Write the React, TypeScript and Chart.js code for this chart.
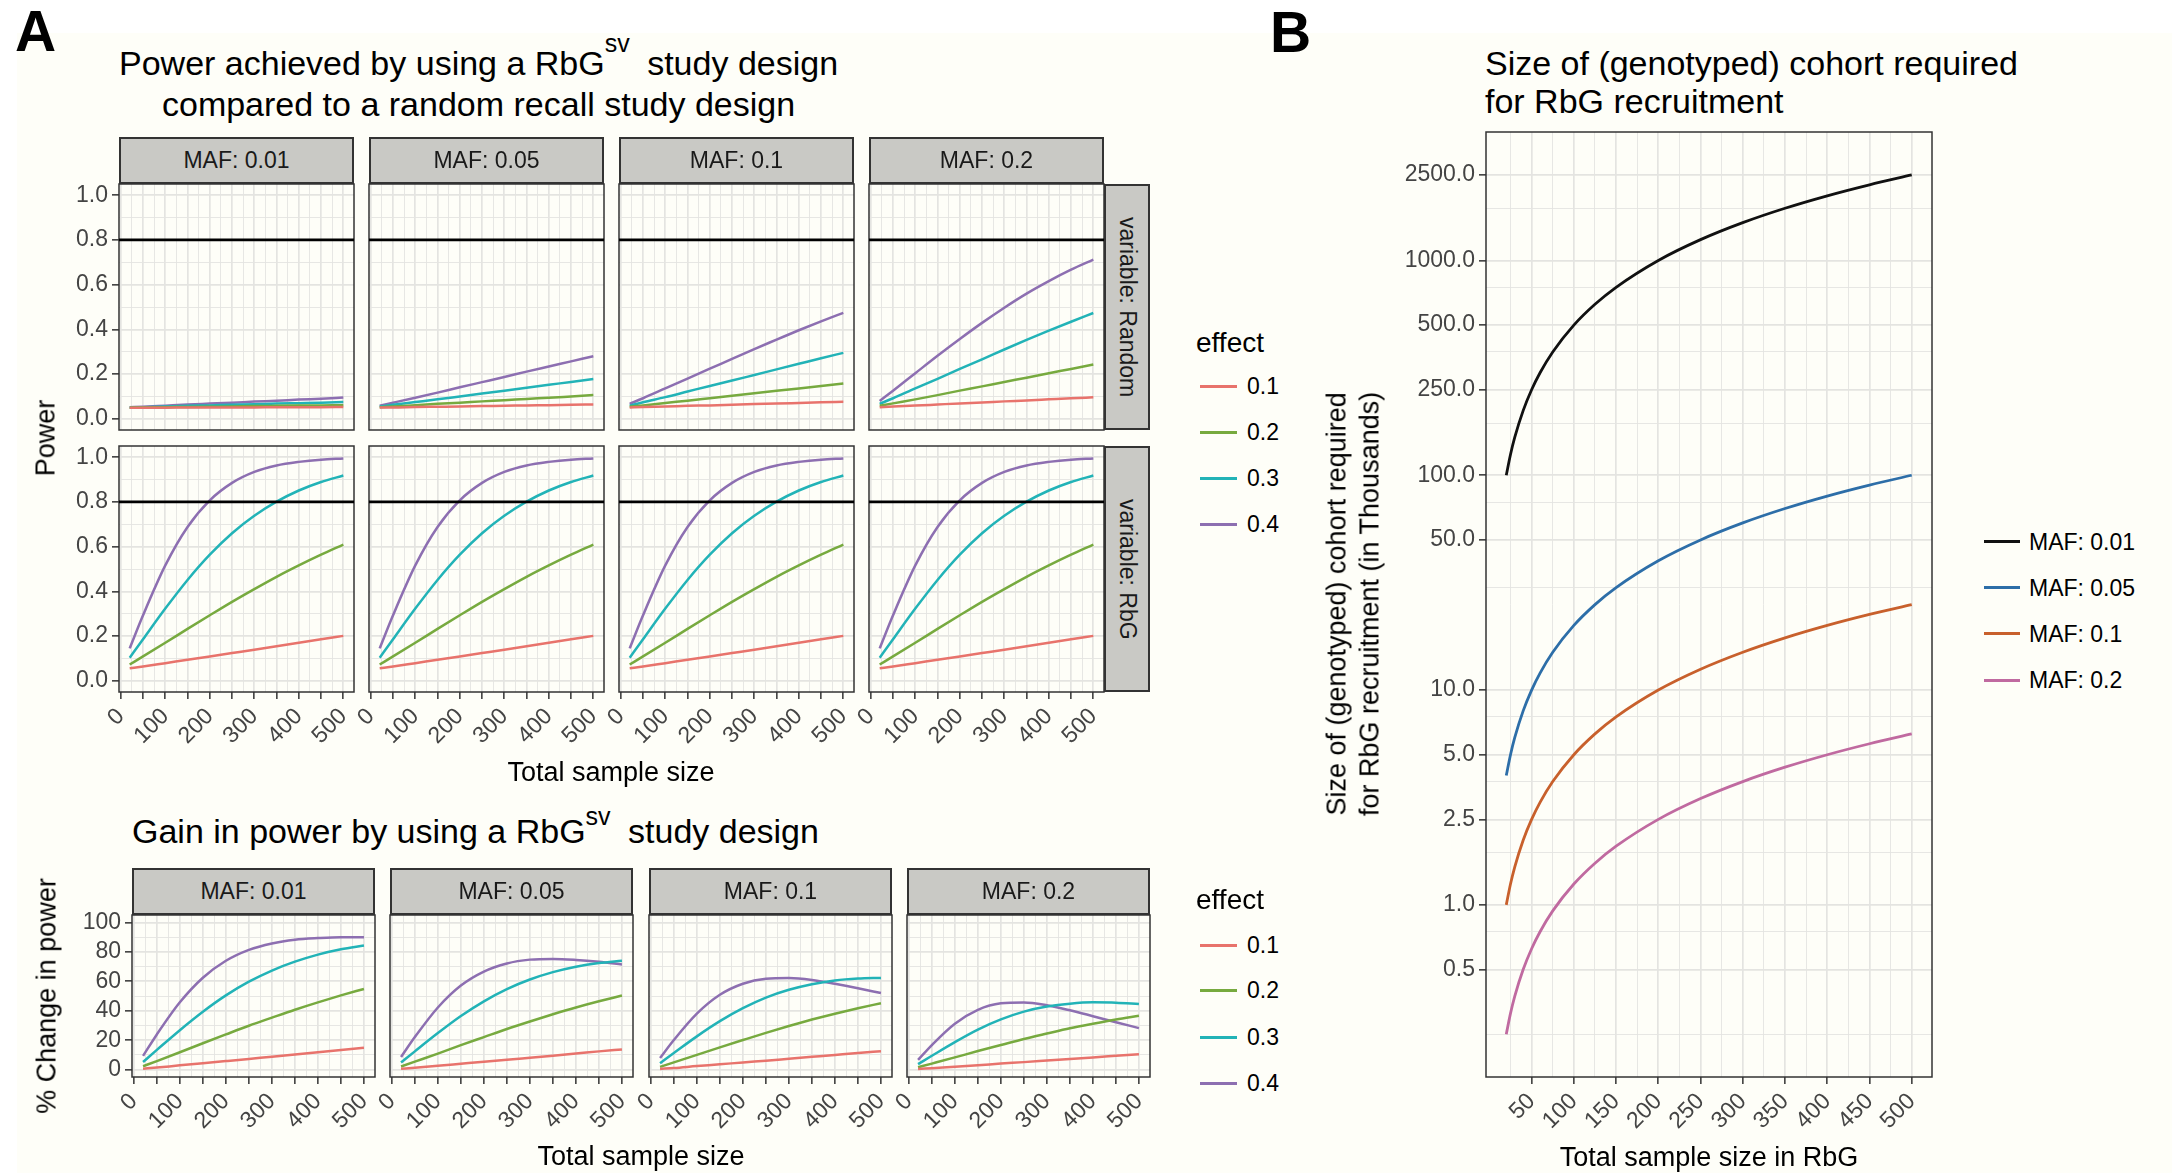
import React, { useEffect, useRef } from 'react';
import { Chart, registerables } from 'chart.js';

Chart.register(...registerables);

const FONT = "'Liberation Sans', Arial, Helvetica, sans-serif";
Chart.defaults.font.family = FONT;

// ---------------- data ----------------
const MAF_LABELS = ['MAF: 0.01', 'MAF: 0.05', 'MAF: 0.1', 'MAF: 0.2'];
const EFFECT_LABELS = ['0.1', '0.2', '0.3', '0.4'];
const DESIGN_LABELS = ['variable: Random', 'variable: RbG'];

// total sample size (x) for panel A
const SAMPLE_SIZES = [20, 50, 100, 150, 200, 250, 300, 350, 400, 450, 500];

// power, random recall design (rows = effect 0.1, 0.2, 0.3, 0.4)
const RANDOM_POWER_MAF_001 = [
  [0.050, 0.050, 0.050, 0.051, 0.051, 0.051, 0.051, 0.052, 0.052, 0.052, 0.053],
  [0.050, 0.051, 0.052, 0.053, 0.054, 0.055, 0.057, 0.058, 0.059, 0.060, 0.061],
  [0.051, 0.052, 0.055, 0.058, 0.060, 0.063, 0.065, 0.068, 0.070, 0.072, 0.075],
  [0.052, 0.054, 0.059, 0.064, 0.068, 0.072, 0.077, 0.081, 0.086, 0.090, 0.095],
];
const RANDOM_POWER_MAF_005 = [
  [0.051, 0.051, 0.053, 0.054, 0.055, 0.057, 0.058, 0.060, 0.061, 0.063, 0.064],
  [0.052, 0.055, 0.061, 0.067, 0.072, 0.078, 0.083, 0.089, 0.094, 0.100, 0.106],
  [0.055, 0.063, 0.075, 0.087, 0.100, 0.113, 0.126, 0.139, 0.152, 0.165, 0.178],
  [0.059, 0.072, 0.094, 0.117, 0.141, 0.164, 0.187, 0.211, 0.234, 0.257, 0.280],
];
const RANDOM_POWER_MAF_01 = [
  [0.051, 0.053, 0.055, 0.058, 0.060, 0.063, 0.066, 0.068, 0.071, 0.074, 0.076],
  [0.054, 0.060, 0.071, 0.081, 0.092, 0.103, 0.114, 0.125, 0.136, 0.147, 0.158],
  [0.059, 0.074, 0.097, 0.122, 0.147, 0.171, 0.196, 0.221, 0.246, 0.271, 0.295],
  [0.067, 0.092, 0.136, 0.180, 0.224, 0.268, 0.312, 0.354, 0.396, 0.436, 0.474],
];
const RANDOM_POWER_MAF_02 = [
  [0.052, 0.055, 0.059, 0.064, 0.069, 0.073, 0.078, 0.082, 0.087, 0.092, 0.096],
  [0.058, 0.069, 0.087, 0.106, 0.126, 0.145, 0.165, 0.184, 0.204, 0.223, 0.243],
  [0.067, 0.092, 0.136, 0.179, 0.223, 0.266, 0.310, 0.353, 0.394, 0.434, 0.473],
  [0.080, 0.126, 0.204, 0.282, 0.357, 0.429, 0.497, 0.560, 0.616, 0.667, 0.712],
];
// power, RbG design (identical for every MAF)
const RBG_POWER = [
  [0.056, 0.064, 0.079, 0.094, 0.109, 0.124, 0.139, 0.155, 0.170, 0.186, 0.201],
  [0.073, 0.109, 0.170, 0.232, 0.293, 0.353, 0.410, 0.465, 0.516, 0.564, 0.609],
  [0.103, 0.186, 0.323, 0.451, 0.564, 0.660, 0.738, 0.801, 0.851, 0.889, 0.918],
  [0.145, 0.293, 0.516, 0.688, 0.807, 0.885, 0.934, 0.963, 0.979, 0.989, 0.994],
];
// % change in power
const GAIN_MAF_001 = [
  [0.6, 1.4, 2.9, 4.3, 5.8, 7.3, 8.8, 10.3, 11.8, 13.4, 14.8],
  [2.3, 5.8, 11.8, 17.9, 23.9, 29.8, 35.3, 40.7, 45.7, 50.4, 54.8],
  [5.2, 13.4, 26.8, 39.3, 50.4, 59.7, 67.3, 73.3, 78.1, 81.7, 84.3],
  [9.3, 23.9, 45.7, 62.4, 73.9, 81.3, 85.7, 88.2, 89.3, 89.9, 89.9],
];
const GAIN_MAF_005 = [
  [0.6, 1.3, 2.6, 4.0, 5.4, 6.7, 8.1, 9.5, 10.9, 12.4, 13.7],
  [2.1, 5.4, 10.9, 16.6, 22.1, 27.6, 32.7, 37.6, 42.2, 46.4, 50.3],
  [4.8, 12.4, 24.8, 36.4, 46.4, 54.7, 61.2, 66.2, 69.9, 72.4, 74.0],
  [8.6, 22.1, 42.2, 57.1, 66.6, 72.1, 74.7, 75.2, 74.5, 73.2, 71.4],
];
const GAIN_MAF_01 = [
  [0.5, 1.1, 2.4, 3.6, 4.9, 6.1, 7.4, 8.7, 10.0, 11.3, 12.5],
  [1.9, 4.9, 10.0, 15.1, 20.1, 25.0, 29.6, 34.0, 38.0, 41.7, 45.1],
  [4.4, 11.3, 22.6, 32.9, 41.7, 48.9, 54.2, 58.0, 60.5, 61.8, 62.3],
  [7.9, 20.1, 38.0, 50.8, 58.3, 61.7, 62.2, 60.9, 58.3, 55.3, 52.0],
];
const GAIN_MAF_02 = [
  [0.4, 1.0, 2.0, 3.0, 4.1, 5.1, 6.2, 7.3, 8.3, 9.4, 10.5],
  [1.6, 4.1, 8.3, 12.6, 16.7, 20.8, 24.5, 28.1, 31.2, 34.1, 36.6],
  [3.7, 9.4, 18.7, 27.2, 34.1, 39.4, 42.8, 44.8, 45.7, 45.5, 44.5],
  [6.6, 16.7, 31.2, 40.6, 45.0, 45.6, 43.7, 40.3, 36.3, 32.2, 28.2],
];

// panel B: cohort size (thousands) vs total sample size in RbG
const RBG_SAMPLE_SIZES = [20, 25, 30, 40, 50, 60, 75, 100, 125, 150, 200, 250, 300, 350, 400, 450, 500];
const COHORT_MAF_001 = [100, 125, 150, 200, 250, 300, 375, 500, 625, 750, 1000, 1250, 1500, 1750, 2000, 2250, 2500];
const COHORT_MAF_005 = [4, 5, 6, 8, 10, 12, 15, 20, 25, 30, 40, 50, 60, 70, 80, 90, 100];
const COHORT_MAF_01 = [1, 1.25, 1.5, 2, 2.5, 3, 3.75, 5, 6.25, 7.5, 10, 12.5, 15, 17.5, 20, 22.5, 25];
const COHORT_MAF_02 = [0.25, 0.3125, 0.375, 0.5, 0.625, 0.75, 0.9375, 1.25, 1.5625, 1.875, 2.5, 3.125, 3.75, 4.375, 5, 5.625, 6.25];

// axis breaks
const SIZE_RANGE = [-4, 524];
const SIZE_MAJOR = [0, 50, 100, 150, 200, 250, 300, 350, 400, 450, 500];
const SIZE_LABELLED = [0, 100, 200, 300, 400, 500];
const SIZE_MINOR = [25, 75, 125, 175, 225, 275, 325, 375, 425, 475];
const POWER_RANGE = [-0.05, 1.05];
const POWER_MAJOR = [0, 0.2, 0.4, 0.6, 0.8, 1.0];
const POWER_MINOR = [0.1, 0.3, 0.5, 0.7, 0.9];
const POWER_TARGET = 0.8;
const GAIN_RANGE = [-5, 105];
const GAIN_MAJOR = [0, 20, 40, 60, 80, 100];
const GAIN_MINOR = [10, 30, 50, 70, 90];
const RBG_SIZE_MAJOR = [50, 100, 150, 200, 250, 300, 350, 400, 450, 500];
const RBG_SIZE_MINOR = [25, 75, 125, 175, 225, 275, 325, 375, 425, 475];
const COHORT_RANGE = [0.158, 3963];
const COHORT_MAJOR = [0.5, 1, 2.5, 5, 10, 50, 100, 250, 500, 1000, 2500];
const COHORT_MINOR = [0.25, 0.75, 1.75, 3.75, 7.5, 30, 75, 175, 375, 750, 1750];

// ---------------- style ----------------
const EFFECT_COLORS = ['#E8736C', '#77AA3F', '#22B3B7', '#8D6FB1'];
const MAF_COLORS = ['#111111', '#2D6EA8', '#C8602C', '#C06AA0'];
const CREAM = '#FEFEF8';
const GRID_COLOR = '#E4E4E1';
const TICK_COLOR = '#333333';
const TICK_TEXT = '#444444';
const STRIP_FILL = '#C9C9C5';
const STRIP_BORDER = '#333333';

const MT = 4;
const MR = 6;
const MB = 90;

const near = (arr: number[], v: any) =>
  typeof v === 'number' && arr.some((a) => Math.abs(a - v) <= Math.abs(a) * 1e-6 + 1e-9);

const panelBorder = {
  id: 'panelBorder',
  afterDatasetsDraw(chart: any) {
    const { ctx, chartArea: a } = chart;
    ctx.save();
    ctx.strokeStyle = '#333333';
    ctx.lineWidth = 1.5;
    ctx.strokeRect(a.left, a.top, a.right - a.left, a.bottom - a.top);
    ctx.restore();
  },
};

const refLine = {
  id: 'refLine',
  afterDatasetsDraw(chart: any, _args: any, opts: any) {
    if (opts == null || opts.value == null) return;
    const { ctx, chartArea: a } = chart;
    const y = chart.scales.y.getPixelForValue(opts.value);
    ctx.save();
    ctx.strokeStyle = '#000000';
    ctx.lineWidth = 2.8;
    ctx.beginPath();
    ctx.moveTo(a.left, y);
    ctx.lineTo(a.right, y);
    ctx.stroke();
    ctx.restore();
  },
};

type PanelSpec = {
  left: number; top: number; width: number; height: number;
  xs: number[]; series: number[][]; colors: string[]; lineWidth: number;
  xRange: number[]; xMajor: number[]; xMinor: number[]; xLabelled: number[];
  yLog?: boolean; yRange: number[]; yMajor: number[]; yMinor: number[]; yDigits: number;
  showX: boolean; showY: boolean; hline?: number; ml: number;
};

function Panel({ spec }: { spec: PanelSpec }) {
  const ref = useRef<HTMLCanvasElement | null>(null);
  const cw = spec.ml + spec.width + MR;
  const ch = MT + spec.height + MB;
  useEffect(() => {
    if (!ref.current) return;
    const s = spec;
    const chart = new Chart(ref.current as any, {
      type: 'line',
      data: {
        datasets: s.series.map((vals, i) => ({
          data: s.xs.map((x, j) => ({ x, y: vals[j] })),
          borderColor: s.colors[i],
          borderWidth: s.lineWidth,
          pointRadius: 0,
          fill: false,
          cubicInterpolationMode: 'monotone',
        })),
      },
      options: {
        animation: false,
        responsive: false,
        devicePixelRatio: 1,
        events: [],
        layout: { padding: { top: MT, right: MR, left: 0, bottom: 0 } },
        plugins: {
          legend: { display: false },
          tooltip: { enabled: false },
          refLine: { value: s.hline },
        },
        scales: {
          x: {
            type: 'linear',
            min: s.xRange[0],
            max: s.xRange[1],
            afterBuildTicks: (sc: any) => {
              sc.ticks = [...s.xMajor, ...s.xMinor].sort((a, b) => a - b).map((v) => ({ value: v }));
            },
            afterFit: (sc: any) => {
              sc.height = MB;
              sc.paddingLeft = 0; sc.paddingRight = 0; sc.paddingTop = 0; sc.paddingBottom = 0;
            },
            border: { display: false },
            grid: {
              color: GRID_COLOR,
              lineWidth: (c: any) => (near(s.xMajor, c.tick?.value) ? 1.7 : 0.9),
              drawTicks: s.showX,
              tickLength: 7,
              tickWidth: 1.5,
              tickColor: (c: any) => (near(s.xMajor, c.tick?.value) ? TICK_COLOR : 'rgba(0,0,0,0)'),
            },
            ticks: {
              display: s.showX,
              autoSkip: false,
              minRotation: 45,
              maxRotation: 45,
              padding: 4,
              color: TICK_TEXT,
              font: { size: 23, family: FONT },
              callback: (v: any) => (near(s.xLabelled, Number(v)) ? String(v) : ''),
            },
          },
          y: {
            type: s.yLog ? 'logarithmic' : 'linear',
            min: s.yRange[0],
            max: s.yRange[1],
            afterBuildTicks: (sc: any) => {
              sc.ticks = [...s.yMajor, ...s.yMinor].sort((a, b) => a - b).map((v) => ({ value: v }));
            },
            afterFit: (sc: any) => {
              sc.width = s.ml;
              sc.paddingLeft = 0; sc.paddingRight = 0; sc.paddingTop = 0; sc.paddingBottom = 0;
            },
            border: { display: false },
            grid: {
              color: GRID_COLOR,
              lineWidth: (c: any) => (near(s.yMajor, c.tick?.value) ? 1.7 : 0.9),
              drawTicks: s.showY,
              tickLength: 7,
              tickWidth: 1.5,
              tickColor: (c: any) => (near(s.yMajor, c.tick?.value) ? TICK_COLOR : 'rgba(0,0,0,0)'),
            },
            ticks: {
              display: s.showY,
              autoSkip: false,
              padding: 4,
              color: TICK_TEXT,
              font: { size: 23, family: FONT },
              callback: (v: any) => (near(s.yMajor, Number(v)) ? Number(v).toFixed(s.yDigits) : ''),
            },
          },
        },
      } as any,
      plugins: [panelBorder, refLine] as any,
    });
    return () => chart.destroy();
  }, []);
  return (
    <canvas
      ref={ref}
      width={cw}
      height={ch}
      style={{ position: 'absolute', left: spec.left - spec.ml, top: spec.top - MT, width: cw, height: ch }}
    />
  );
}

function Txt(props: any) {
  const { x, y, size, children, anchor = 'middle', rotate = 0, weight = 400, color = '#000', lineHeight = 1, align = 'center' } = props;
  const tx = anchor === 'start' ? '0' : anchor === 'end' ? '-100%' : '-50%';
  return (
    <div
      style={{
        position: 'absolute', left: x, top: y, fontSize: size, fontWeight: weight, color,
        whiteSpace: 'nowrap', lineHeight, textAlign: align, fontFamily: FONT,
        transform: `translate(${tx}, -50%) rotate(${rotate}deg)`,
      }}
    >
      {children}
    </div>
  );
}

function Strip({ left, top, width, height, text, vertical }: any) {
  return (
    <div
      style={{
        position: 'absolute', left, top, width, height, boxSizing: 'border-box',
        background: STRIP_FILL, border: `2px solid ${STRIP_BORDER}`,
        display: 'flex', alignItems: 'center', justifyContent: 'center',
        fontSize: 23, color: '#1A1A1A', whiteSpace: 'nowrap', fontFamily: FONT,
      }}
    >
      <span style={vertical ? { writingMode: 'vertical-rl' } : undefined}>{text}</span>
    </div>
  );
}

function Legend({ title, labels, colors, left, textLeft, titleY, ys, lineLen }: any) {
  return (
    <>
      {title ? <Txt x={left - 4} y={titleY} size={28} anchor="start">{title}</Txt> : null}
      {labels.map((l: string, i: number) => (
        <React.Fragment key={l}>
          <div style={{ position: 'absolute', left, top: ys[i] - 1.5, width: lineLen, height: 3, background: colors[i] }} />
          <Txt x={textLeft} y={ys[i]} size={23} anchor="start">{l}</Txt>
        </React.Fragment>
      ))}
    </>
  );
}

// ---------------- layout ----------------
const A_LEFTS = [119, 369, 619, 869];
const A_WIDTH = 235;
const A_ROW_TOPS = [184, 446];
const A_ROW_H = 246;
const G_LEFTS = [132, 390, 649, 907];
const G_WIDTH = 243;
const G_TOP = 915;
const G_H = 162;

const RANDOM_BY_MAF = [RANDOM_POWER_MAF_001, RANDOM_POWER_MAF_005, RANDOM_POWER_MAF_01, RANDOM_POWER_MAF_02];
const GAIN_BY_MAF = [GAIN_MAF_001, GAIN_MAF_005, GAIN_MAF_01, GAIN_MAF_02];
const COHORT_SERIES = [COHORT_MAF_001, COHORT_MAF_005, COHORT_MAF_01, COHORT_MAF_02];

export default function App() {
  const powerPanels: PanelSpec[] = [];
  [0, 1].forEach((r) => {
    A_LEFTS.forEach((left, c) => {
      powerPanels.push({
        left, top: A_ROW_TOPS[r], width: A_WIDTH, height: A_ROW_H,
        xs: SAMPLE_SIZES, series: r === 0 ? RANDOM_BY_MAF[c] : RBG_POWER, colors: EFFECT_COLORS, lineWidth: 2.5,
        xRange: SIZE_RANGE, xMajor: SIZE_MAJOR, xMinor: SIZE_MINOR, xLabelled: SIZE_LABELLED,
        yRange: POWER_RANGE, yMajor: POWER_MAJOR, yMinor: POWER_MINOR, yDigits: 1,
        showX: r === 1, showY: c === 0, hline: POWER_TARGET, ml: 90,
      });
    });
  });
  const gainPanels: PanelSpec[] = G_LEFTS.map((left, c) => ({
    left, top: G_TOP, width: G_WIDTH, height: G_H,
    xs: SAMPLE_SIZES, series: GAIN_BY_MAF[c], colors: EFFECT_COLORS, lineWidth: 2.5,
    xRange: SIZE_RANGE, xMajor: SIZE_MAJOR, xMinor: SIZE_MINOR, xLabelled: SIZE_LABELLED,
    yRange: GAIN_RANGE, yMajor: GAIN_MAJOR, yMinor: GAIN_MINOR, yDigits: 0,
    showX: true, showY: c === 0, ml: 90,
  }));
  const cohortPanel: PanelSpec = {
    left: 1486, top: 132, width: 446, height: 945,
    xs: RBG_SAMPLE_SIZES, series: COHORT_SERIES, colors: MAF_COLORS, lineWidth: 2.8,
    xRange: SIZE_RANGE, xMajor: RBG_SIZE_MAJOR, xMinor: RBG_SIZE_MINOR, xLabelled: RBG_SIZE_MAJOR,
    yLog: true, yRange: COHORT_RANGE, yMajor: COHORT_MAJOR, yMinor: COHORT_MINOR, yDigits: 1,
    showX: true, showY: true, ml: 130,
  };

  const sup = (raise: number) => ({ fontSize: 25, position: 'relative' as const, top: -raise, marginRight: 8 });

  return (
    <div style={{ position: 'absolute', left: 0, top: 0, width: 2172, height: 1173, background: '#FFFFFF', overflow: 'hidden', fontFamily: FONT }}>
      <div style={{ position: 'absolute', left: 17, top: 33, right: 0, bottom: 0, background: CREAM }} />

      {powerPanels.map((p, i) => <Panel key={'p' + i} spec={p} />)}
      {gainPanels.map((p, i) => <Panel key={'g' + i} spec={p} />)}
      <Panel spec={cohortPanel} />

      {/* panel letters */}
      <div style={{ position: 'absolute', left: 15, top: 3, fontSize: 57, fontWeight: 700, lineHeight: 1 }}>A</div>
      <div style={{ position: 'absolute', left: 1270, top: 4, fontSize: 57, fontWeight: 700, lineHeight: 1 }}>B</div>

      {/* A titles */}
      <div style={{ position: 'absolute', left: 119, top: 44, fontSize: 34, lineHeight: '38px', textAlign: 'center', whiteSpace: 'nowrap' }}>
        <div>Power achieved by using a RbG<span style={sup(23)}>sv</span> study design</div>
        <div>compared to a random recall study design</div>
      </div>
      <div style={{ position: 'absolute', left: 132, top: 812, fontSize: 34, lineHeight: '38px', whiteSpace: 'nowrap' }}>
        Gain in power by using a RbG<span style={sup(18)}>sv</span> study design
      </div>

      {/* A strips */}
      {A_LEFTS.map((l, c) => <Strip key={'s' + c} left={l} top={137} width={A_WIDTH} height={47} text={MAF_LABELS[c]} />)}
      {A_ROW_TOPS.map((t, r) => <Strip key={'v' + r} left={1104} top={t} width={46} height={A_ROW_H} text={DESIGN_LABELS[r]} vertical />)}
      {G_LEFTS.map((l, c) => <Strip key={'gs' + c} left={l} top={868} width={G_WIDTH} height={47} text={MAF_LABELS[c]} />)}

      {/* A axis titles */}
      <Txt x={46} y={438} size={27} rotate={-90}>Power</Txt>
      <Txt x={611} y={772} size={27}>Total sample size</Txt>
      <Txt x={47} y={996} size={27} rotate={-90}>% Change in power</Txt>
      <Txt x={641} y={1156} size={27}>Total sample size</Txt>

      {/* A legends */}
      <Legend title="effect" labels={EFFECT_LABELS} colors={EFFECT_COLORS} left={1200} textLeft={1247} titleY={343} ys={[386, 432, 478, 524]} lineLen={37} />
      <Legend title="effect" labels={EFFECT_LABELS} colors={EFFECT_COLORS} left={1200} textLeft={1247} titleY={900} ys={[945, 990, 1037, 1083]} lineLen={37} />

      {/* B */}
      <div style={{ position: 'absolute', left: 1485, top: 44, fontSize: 34, lineHeight: '38px', whiteSpace: 'nowrap' }}>
        <div>Size of (genotyped) cohort required</div>
        <div>for RbG recruitment</div>
      </div>
      <Txt x={1353} y={604} size={27} rotate={-90} lineHeight="32.5px">
        <div>Size of (genotyped) cohort required</div>
        <div>for RbG recruitment (in Thousands)</div>
      </Txt>
      <Txt x={1709} y={1157} size={27}>Total sample size in RbG</Txt>
      <Legend labels={MAF_LABELS} colors={MAF_COLORS} left={1984} textLeft={2029} ys={[541.5, 587.5, 633.5, 680]} lineLen={36} />
    </div>
  );
}
